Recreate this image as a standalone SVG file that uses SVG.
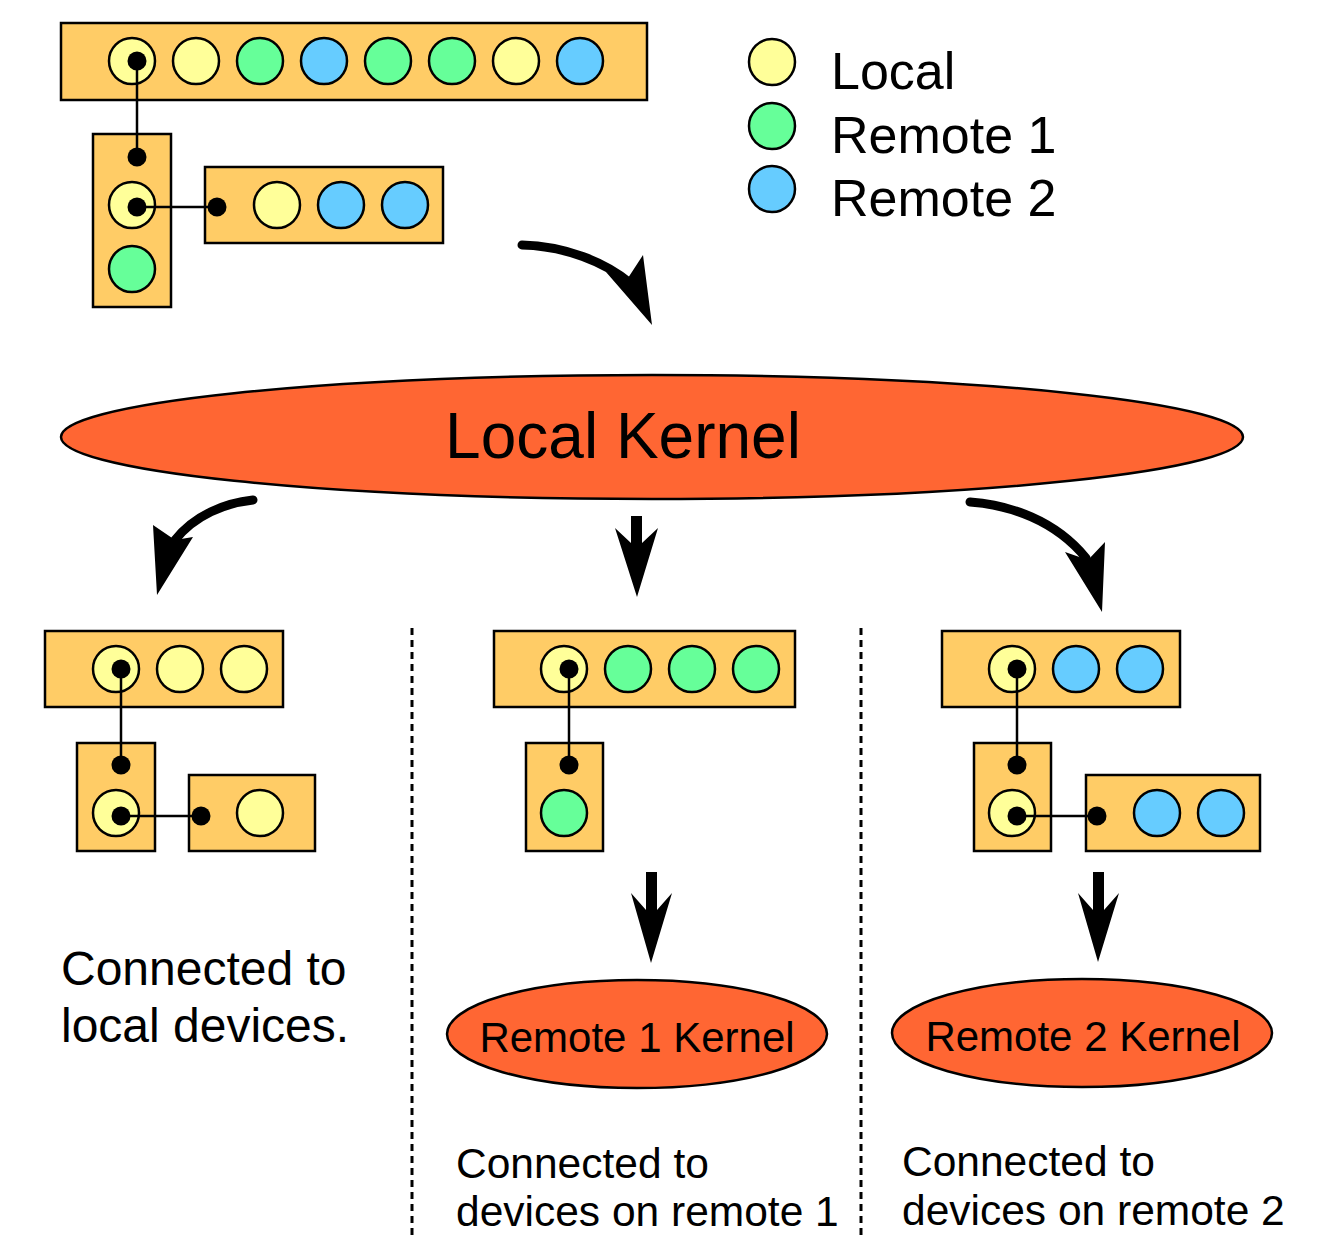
<svg xmlns="http://www.w3.org/2000/svg" width="1329" height="1235" viewBox="0 0 1329 1235">
<style>
.box{fill:#FFCC66;stroke:#000;stroke-width:2.5}
.y{fill:#FFFF99;stroke:#000;stroke-width:2.5}
.g{fill:#66FF99;stroke:#000;stroke-width:2.5}
.b{fill:#66CCFF;stroke:#000;stroke-width:2.5}
.dot{fill:#000}
.ln{stroke:#000;stroke-width:2.5;fill:none}
.kern{fill:#FF6633;stroke:#000;stroke-width:2.5}
.t{font-family:"Liberation Sans",Arial,sans-serif;fill:#000}
.shaft{stroke:#000;stroke-width:9;fill:none;stroke-linecap:round}
.head{fill:#000}
.dash{stroke:#000;stroke-width:3;stroke-dasharray:7 5}
</style>
<rect width="1329" height="1235" fill="#fff"/>

<g id="top-tree">
  <rect class="box" x="61" y="23" width="586" height="77"/>
  <circle class="y" cx="132" cy="61" r="23"/>
  <circle class="y" cx="196" cy="61" r="23"/>
  <circle class="g" cx="260" cy="61" r="23"/>
  <circle class="b" cx="324" cy="61" r="23"/>
  <circle class="g" cx="388" cy="61" r="23"/>
  <circle class="g" cx="452" cy="61" r="23"/>
  <circle class="y" cx="516" cy="61" r="23"/>
  <circle class="b" cx="580" cy="61" r="23"/>
  <rect class="box" x="93" y="134" width="78" height="173"/>
  <circle class="y" cx="132" cy="205" r="23"/>
  <circle class="g" cx="132" cy="269" r="23"/>
  <rect class="box" x="205" y="167" width="238" height="76"/>
  <circle class="y" cx="277" cy="205" r="23"/>
  <circle class="b" cx="341" cy="205" r="23"/>
  <circle class="b" cx="405" cy="205" r="23"/>
  <line class="ln" x1="137" y1="61" x2="137" y2="157"/>
  <line class="ln" x1="137" y1="207" x2="217" y2="207"/>
  <circle class="dot" cx="137" cy="61" r="9.5"/>
  <circle class="dot" cx="137" cy="157" r="9.5"/>
  <circle class="dot" cx="137" cy="207" r="9.5"/>
  <circle class="dot" cx="217" cy="207" r="9.5"/>
</g>

<g id="legend">
  <circle class="y" cx="772" cy="62" r="23"/>
  <circle class="g" cx="772" cy="126" r="23"/>
  <circle class="b" cx="772" cy="189" r="23"/>
  <text class="t" x="831" y="89" font-size="52">Local</text>
  <text class="t" x="831" y="153" font-size="52">Remote 1</text>
  <text class="t" x="831" y="216" font-size="52">Remote 2</text>
</g>

<g id="local-kernel">
  <ellipse class="kern" cx="652" cy="437" rx="591" ry="62"/>
  <text class="t" x="623" y="458" font-size="64" text-anchor="middle">Local Kernel</text>
</g>

<g id="left-tree">
  <rect class="box" x="45" y="631" width="238" height="76"/>
  <circle class="y" cx="116" cy="669" r="23"/>
  <circle class="y" cx="180" cy="669" r="23"/>
  <circle class="y" cx="244" cy="669" r="23"/>
  <rect class="box" x="77" y="743" width="78" height="108"/>
  <circle class="y" cx="116" cy="813" r="23"/>
  <rect class="box" x="189" y="775" width="126" height="76"/>
  <circle class="y" cx="260" cy="813" r="23"/>
  <line class="ln" x1="121" y1="669" x2="121" y2="765"/>
  <line class="ln" x1="121" y1="816" x2="201" y2="816"/>
  <circle class="dot" cx="121" cy="669" r="9.5"/>
  <circle class="dot" cx="121" cy="765" r="9.5"/>
  <circle class="dot" cx="121" cy="816" r="9.5"/>
  <circle class="dot" cx="201" cy="816" r="9.5"/>
</g>

<g id="mid-tree">
  <rect class="box" x="494" y="631" width="301" height="76"/>
  <circle class="y" cx="564" cy="669" r="23"/>
  <circle class="g" cx="628" cy="669" r="23"/>
  <circle class="g" cx="692" cy="669" r="23"/>
  <circle class="g" cx="756" cy="669" r="23"/>
  <rect class="box" x="526" y="743" width="77" height="108"/>
  <circle class="g" cx="564" cy="813" r="23"/>
  <line class="ln" x1="569" y1="669" x2="569" y2="765"/>
  <circle class="dot" cx="569" cy="669" r="9.5"/>
  <circle class="dot" cx="569" cy="765" r="9.5"/>
</g>

<g id="right-tree">
  <rect class="box" x="942" y="631" width="238" height="76"/>
  <circle class="y" cx="1012" cy="669" r="23"/>
  <circle class="b" cx="1076" cy="669" r="23"/>
  <circle class="b" cx="1140" cy="669" r="23"/>
  <rect class="box" x="974" y="743" width="77" height="108"/>
  <circle class="y" cx="1012" cy="813" r="23"/>
  <rect class="box" x="1086" y="775" width="174" height="76"/>
  <circle class="b" cx="1157" cy="813" r="23"/>
  <circle class="b" cx="1221" cy="813" r="23"/>
  <line class="ln" x1="1017" y1="669" x2="1017" y2="765"/>
  <line class="ln" x1="1017" y1="816" x2="1097" y2="816"/>
  <circle class="dot" cx="1017" cy="669" r="9.5"/>
  <circle class="dot" cx="1017" cy="765" r="9.5"/>
  <circle class="dot" cx="1017" cy="816" r="9.5"/>
  <circle class="dot" cx="1097" cy="816" r="9.5"/>
</g>

<g id="remote1-kernel">
  <ellipse class="kern" cx="637" cy="1034" rx="190" ry="54"/>
  <text class="t" x="637" y="1052" font-size="42" text-anchor="middle">Remote 1 Kernel</text>
</g>
<g id="remote2-kernel">
  <ellipse class="kern" cx="1082" cy="1033" rx="190" ry="54"/>
  <text class="t" x="1083" y="1051" font-size="42" text-anchor="middle">Remote 2 Kernel</text>
</g>

<g id="labels">
  <text class="t" x="61" y="985" font-size="48">Connected to</text>
  <text class="t" x="61" y="1042" font-size="48">local devices.</text>
  <text class="t" x="456" y="1178" font-size="42.5">Connected to</text>
  <text class="t" x="456" y="1226" font-size="42.5">devices on remote 1</text>
  <text class="t" x="902" y="1176" font-size="42.5">Connected to</text>
  <text class="t" x="902" y="1225" font-size="42.5">devices on remote 2</text>
</g>

<g id="connectors">
  <line class="dash" x1="412" y1="628" x2="412" y2="1235"/>
  <line class="dash" x1="861" y1="628" x2="861" y2="1235"/>
  <path class="shaft" d="M522,245 C565,246 605,262 630,283"/>
  <polygon class="head" points="652,325 606,272 628,278 643,255"/>
  <path class="shaft" d="M253,500 C225,503 195,515 175,540"/>
  <polygon class="head" points="157,595 153,525 175,540 193,537"/>
  <path class="shaft" d="M970,502 C1010,505 1055,520 1086,558"/>
  <polygon class="head" points="1102,612 1065,552 1088,560 1105,542"/>
  <polygon class="head" points="631,516 642,516 642,543 658,528 637,597 615,528 631,543"/>
  <polygon class="head" points="646,872 657,872 657,910 672,893 651,963 631,893 646,910"/>
  <polygon class="head" points="1093,872 1104,872 1104,910 1119,893 1098,962 1078,893 1093,910"/>
</g>
</svg>
